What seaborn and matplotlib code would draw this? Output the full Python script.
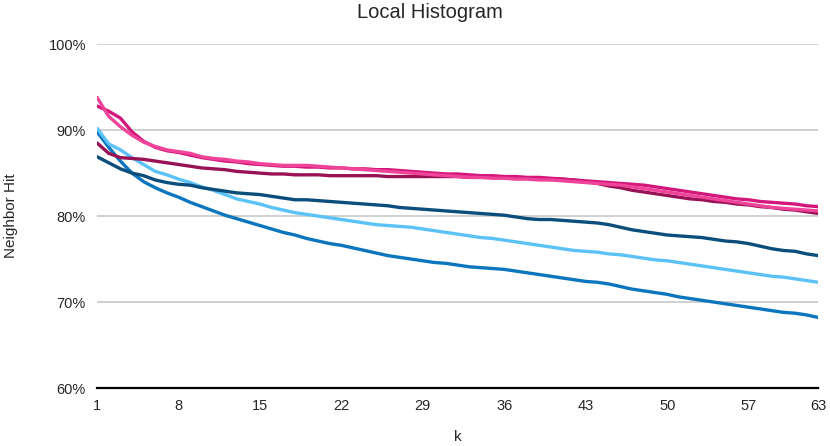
import matplotlib
matplotlib.use("Agg")
import matplotlib.pyplot as plt
import seaborn as sns
import pandas as pd
from matplotlib.ticker import PercentFormatter

k = list(range(1, 64))
k_ticks = [1, 8, 15, 22, 29, 36, 43, 50, 57, 63]

# values (percent)
pink = [93.8, 91.6, 90.4, 89.4, 88.6, 88.1, 87.7, 87.5, 87.3, 86.9, 86.7, 86.6, 86.4, 86.3, 86.1, 86.0,
        85.9, 85.9, 85.9, 85.8, 85.7, 85.6, 85.5, 85.4, 85.3, 85.2, 85.1, 85.0, 84.9, 84.8, 84.7, 84.6,
        84.5, 84.5, 84.4, 84.4, 84.3, 84.3, 84.2, 84.2, 84.1, 84.0, 83.9, 83.8, 83.7, 83.6, 83.4, 83.2,
        83.0, 82.8, 82.6, 82.4, 82.2, 82.0, 81.8, 81.6, 81.4, 81.2, 81.0, 80.9, 80.8, 80.7, 80.6]
magenta = [92.8, 92.2, 91.4, 89.8, 88.7, 88.0, 87.6, 87.4, 87.1, 86.8, 86.6, 86.4, 86.3, 86.1, 86.0, 85.9,
           85.8, 85.8, 85.7, 85.7, 85.6, 85.6, 85.5, 85.5, 85.4, 85.4, 85.3, 85.2, 85.1, 85.0, 84.9, 84.9,
           84.8, 84.7, 84.7, 84.6, 84.6, 84.5, 84.5, 84.4, 84.3, 84.2, 84.1, 84.0, 83.9, 83.8, 83.7, 83.6,
           83.4, 83.2, 83.0, 82.8, 82.6, 82.4, 82.2, 82.0, 81.9, 81.7, 81.6, 81.5, 81.4, 81.2, 81.1]
maroon = [88.5, 87.3, 86.8, 86.7, 86.6, 86.4, 86.2, 86.0, 85.8, 85.6, 85.5, 85.4, 85.2, 85.1, 85.0, 84.9,
          84.9, 84.8, 84.8, 84.8, 84.7, 84.7, 84.7, 84.7, 84.7, 84.6, 84.6, 84.6, 84.6, 84.6, 84.6, 84.6,
          84.5, 84.5, 84.5, 84.5, 84.5, 84.4, 84.4, 84.3, 84.3, 84.2, 84.0, 83.8, 83.5, 83.3, 83.0, 82.8,
          82.6, 82.4, 82.2, 82.0, 81.9, 81.7, 81.6, 81.4, 81.3, 81.1, 81.0, 80.8, 80.7, 80.5, 80.3]
light_blue = [90.2, 88.4, 87.7, 86.8, 86.0, 85.2, 84.8, 84.3, 83.9, 83.4, 83.0, 82.5, 82.0, 81.7, 81.4, 81.0,
              80.7, 80.4, 80.2, 80.0, 79.8, 79.6, 79.4, 79.2, 79.0, 78.9, 78.8, 78.7, 78.5, 78.3, 78.1, 77.9,
              77.7, 77.5, 77.4, 77.2, 77.0, 76.8, 76.6, 76.4, 76.2, 76.0, 75.9, 75.8, 75.6, 75.5, 75.3, 75.1,
              74.9, 74.8, 74.6, 74.4, 74.2, 74.0, 73.8, 73.6, 73.4, 73.2, 73.0, 72.9, 72.7, 72.5, 72.3]
mid_blue = [89.8, 88.0, 86.4, 85.0, 84.0, 83.3, 82.7, 82.2, 81.6, 81.1, 80.6, 80.1, 79.7, 79.3, 78.9, 78.5,
            78.1, 77.8, 77.4, 77.1, 76.8, 76.6, 76.3, 76.0, 75.7, 75.4, 75.2, 75.0, 74.8, 74.6, 74.5, 74.3,
            74.1, 74.0, 73.9, 73.8, 73.6, 73.4, 73.2, 73.0, 72.8, 72.6, 72.4, 72.3, 72.1, 71.8, 71.5, 71.3,
            71.1, 70.9, 70.6, 70.4, 70.2, 70.0, 69.8, 69.6, 69.4, 69.2, 69.0, 68.8, 68.7, 68.5, 68.2]
navy = [86.9, 86.2, 85.5, 85.0, 84.7, 84.2, 83.9, 83.7, 83.6, 83.3, 83.1, 82.9, 82.7, 82.6, 82.5, 82.3,
        82.1, 81.9, 81.9, 81.8, 81.7, 81.6, 81.5, 81.4, 81.3, 81.2, 81.0, 80.9, 80.8, 80.7, 80.6, 80.5,
        80.4, 80.3, 80.2, 80.1, 79.9, 79.7, 79.6, 79.6, 79.5, 79.4, 79.3, 79.2, 79.0, 78.7, 78.4, 78.2,
        78.0, 77.8, 77.7, 77.6, 77.5, 77.3, 77.1, 77.0, 76.8, 76.5, 76.2, 76.0, 75.9, 75.6, 75.4]

series = {"mid_blue": mid_blue, "light_blue": light_blue, "navy": navy,
          "maroon": maroon, "magenta": magenta, "pink": pink}
colors = {"mid_blue": "#0B76BE", "light_blue": "#5BC2F7", "navy": "#0B4E7C",
          "maroon": "#9A1256", "magenta": "#D3177B", "pink": "#EF4499"}

df = pd.concat([pd.DataFrame({"k": k, "hit": v, "series": name}) for name, v in series.items()])

sns.set_style("white")
plt.rcParams["font.family"] = ["Liberation Sans", "DejaVu Sans"]

fig = plt.figure(figsize=(8.3, 4.46), dpi=100)
ax = fig.add_axes([0.117, 0.130, 0.869, 0.771])
sns.lineplot(data=df, x="k", y="hit", hue="series", palette=colors, linewidth=2.4,
             legend=False, ax=ax)

ax.set_xlim(1, 63)
ax.set_ylim(60, 100)
ax.set_xticks(k_ticks)
ax.set_yticks([60, 70, 80, 90, 100])
ax.yaxis.set_major_formatter(PercentFormatter(decimals=0))
ax.grid(axis="y", color="#C8C8C8", linewidth=1.2)
ax.set_axisbelow(True)
for side in ["top", "right", "left"]:
    ax.spines[side].set_visible(False)
ax.spines["bottom"].set_color("black")
ax.spines["bottom"].set_linewidth(1.6)
ax.tick_params(axis="both", length=0, labelsize=10.5, pad=8)
ax.set_xlabel("k", fontsize=11, labelpad=12)
ax.set_ylabel("Neighbor Hit", fontsize=11, labelpad=22)
fig.text(0.518, 0.971, "Local Histogram", fontsize=14.5, ha="center", va="center")

fig.savefig("out.png", dpi=100)
